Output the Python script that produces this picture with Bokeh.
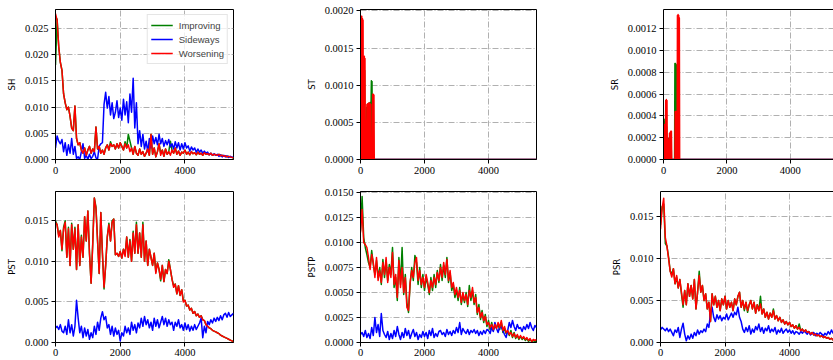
from bokeh.plotting import figure
from bokeh.layouts import column, row
from bokeh.models import FixedTicker, PrintfTickFormatter, Range1d, LinearAxis
from bokeh.embed import file_html
from bokeh.resources import INLINE

# time steps shared by the dense series
steps = list(range(0, 5501, 50))

# ---------------- SH ----------------
sh_improving = [
    0.0180, 0.0268, 0.0215, 0.0185, 0.0170, 0.0125, 0.0108, 0.0095, 0.0100, 0.0082,
    0.0060, 0.0055, 0.0102, 0.0040, 0.0028, 0.0032, 0.0018, 0.0012, 0.0022, 0.0008,
    0.0018, 0.0025, 0.0012, 0.0020, 0.0015, 0.0062, 0.0020, 0.0025, 0.0012, 0.0018,
    0.0010, 0.0022, 0.0028, 0.0018, 0.0034, 0.0025, 0.0028, 0.0020, 0.0030, 0.0022,
    0.0032, 0.0025, 0.0018, 0.0034, 0.0022, 0.0048, 0.0035, 0.0022, 0.0010, 0.0025,
    0.0012, 0.0008, 0.0020, 0.0010, 0.0015, 0.0006, 0.0012, 0.0020, 0.0008, 0.0048,
    0.0010, 0.0022, 0.0005, 0.0015, 0.0030, 0.0012, 0.0018, 0.0006, 0.0020, 0.0010,
    0.0015, 0.0035, 0.0018, 0.0012, 0.0022, 0.0010, 0.0016, 0.0008, 0.0014, 0.0012,
    0.0018, 0.0010, 0.0014, 0.0009, 0.0015, 0.0011, 0.0013, 0.0009, 0.0014, 0.0010,
    0.0012, 0.0008, 0.0013, 0.0010, 0.0011, 0.0009, 0.0012, 0.0008, 0.0010, 0.0009,
    0.0008, 0.0010, 0.0007, 0.0008, 0.0006, 0.0007, 0.0005, 0.0006, 0.0005, 0.0004,
    0.0003,
]
sh_sideways = [
    0.0022, 0.0045, 0.0035, 0.0030, 0.0038, 0.0015, 0.0032, 0.0008, 0.0028, 0.0012,
    0.0040, 0.0010, 0.0025, 0.0002, 0.0005, 0.0000, 0.0015, 0.0030, 0.0002, 0.0008,
    0.0000, 0.0010, 0.0002, 0.0006, 0.0015, 0.0003, 0.0001, 0.0025, 0.0030, 0.0032,
    0.0105, 0.0128, 0.0098, 0.0120, 0.0085, 0.0108, 0.0078, 0.0090, 0.0112, 0.0080,
    0.0098, 0.0075, 0.0115, 0.0085, 0.0110, 0.0070, 0.0125, 0.0090, 0.0155, 0.0060,
    0.0108, 0.0030, 0.0055, 0.0025, 0.0048, 0.0020, 0.0035, 0.0015, 0.0040, 0.0022,
    0.0045, 0.0030, 0.0042, 0.0028, 0.0048, 0.0030, 0.0040, 0.0025, 0.0036, 0.0028,
    0.0038, 0.0024, 0.0030, 0.0020, 0.0034, 0.0022, 0.0032, 0.0018, 0.0030, 0.0020,
    0.0032, 0.0022, 0.0026, 0.0016, 0.0024, 0.0018, 0.0022, 0.0014, 0.0020, 0.0014,
    0.0018, 0.0012, 0.0016, 0.0012, 0.0014, 0.0009, 0.0012, 0.0008, 0.0011, 0.0008,
    0.0010, 0.0006, 0.0009, 0.0005, 0.0008, 0.0005, 0.0007, 0.0004, 0.0006, 0.0004,
    0.0005,
]
sh_worsening = [
    0.0278, 0.0265, 0.0215, 0.0185, 0.0170, 0.0125, 0.0108, 0.0095, 0.0100, 0.0082,
    0.0060, 0.0055, 0.0102, 0.0040, 0.0028, 0.0032, 0.0018, 0.0012, 0.0022, 0.0008,
    0.0018, 0.0025, 0.0012, 0.0020, 0.0015, 0.0062, 0.0020, 0.0025, 0.0012, 0.0018,
    0.0010, 0.0022, 0.0028, 0.0018, 0.0030, 0.0025, 0.0028, 0.0020, 0.0030, 0.0022,
    0.0032, 0.0025, 0.0018, 0.0030, 0.0022, 0.0028, 0.0015, 0.0022, 0.0010, 0.0025,
    0.0012, 0.0008, 0.0020, 0.0010, 0.0015, 0.0006, 0.0012, 0.0020, 0.0008, 0.0048,
    0.0010, 0.0022, 0.0005, 0.0015, 0.0030, 0.0008, 0.0018, 0.0006, 0.0020, 0.0010,
    0.0015, 0.0008, 0.0018, 0.0012, 0.0022, 0.0010, 0.0016, 0.0008, 0.0014, 0.0012,
    0.0018, 0.0010, 0.0014, 0.0009, 0.0015, 0.0011, 0.0013, 0.0009, 0.0014, 0.0010,
    0.0012, 0.0008, 0.0013, 0.0010, 0.0011, 0.0009, 0.0012, 0.0008, 0.0010, 0.0009,
    0.0008, 0.0010, 0.0007, 0.0008, 0.0006, 0.0007, 0.0005, 0.0006, 0.0005, 0.0004,
    0.0003,
]

# ---------------- ST (activity only in the first few hundred steps) ----------------
st_steps = [
    0, 10, 20, 30, 40, 50, 60, 70, 80, 90,
    100, 110, 120, 130, 140, 150, 160, 170, 180, 190,
    200, 210, 220, 230, 240, 250, 260, 270, 280, 290,
    300, 310, 320, 330, 340, 350, 360, 370, 380, 390,
    400, 410, 420, 430, 440, 450, 460, 5500,
]
st_improving = [
    0.0, 0.00150, 0.0, 0.00190, 0.0, 0.00180, 0.0, 0.00040, 0.0, 0.00120,
    0.0, 0.00130, 0.0, 0.00120, 0.0, 0.00050, 0.0, 0.00050, 0.0, 0.00070,
    0.0, 0.00070, 0.0, 0.00074, 0.0, 0.00075, 0.0, 0.00076, 0.0, 0.00076,
    0.0, 0.00077, 0.0, 0.00077, 0.00106, 0.0, 0.00105, 0.0, 0.00080, 0.0,
    0.00080, 0.0, 0.0, 0.0, 0.0, 0.0, 0.0, 0.0,
]
st_sideways_steps = [0, 5500]
st_sideways = [0.0, 0.0]
st_worsening = [
    0.00190, 0.0, 0.00193, 0.0, 0.00193, 0.0, 0.00190, 0.0, 0.00188, 0.0,
    0.00138, 0.0, 0.00139, 0.0, 0.00136, 0.0, 0.00053, 0.0, 0.00050, 0.0,
    0.00074, 0.0, 0.00075, 0.0, 0.00075, 0.0, 0.00076, 0.0, 0.00076, 0.0,
    0.00075, 0.0, 0.00074, 0.0, 0.0, 0.0, 0.0, 0.0, 0.00088, 0.0,
    0.00088, 0.0, 0.00087, 0.0, 0.0, 0.0, 0.0, 0.0,
]

# ---------------- SR ----------------
sr_steps = [
    0, 10, 20, 30, 40, 50, 60, 70, 80, 90,
    100, 110, 120, 130, 140, 150, 160, 170, 180, 190,
    200, 210, 220, 230, 240, 250, 260, 270, 280, 290,
    300, 310, 320, 330, 340, 350, 360, 370, 380, 390,
    400, 410, 420, 430, 440, 450, 460, 470, 480, 490,
    500, 510, 520, 5500,
]
sr_improving = [
    0.00036, 0.0, 0.00037, 0.0, 0.00035, 0.0, 0.00010, 0.0, 0.00020, 0.0,
    0.00030, 0.0, 0.00010, 0.0, 0.00019, 0.0, 0.00019, 0.0, 0.00010, 0.0,
    0.00020, 0.0, 0.00022, 0.0, 0.00020, 0.0, 0.0, 0.0, 0.0, 0.0,
    0.0, 0.0, 0.0, 0.0, 0.0, 0.0, 0.00088, 0.0, 0.00088, 0.0,
    0.00087, 0.0, 0.00086, 0.0, 0.00030, 0.0, 0.00030, 0.0, 0.00020, 0.0,
    0.0, 0.0, 0.0, 0.0,
]
sr_sideways_steps = [0, 5500]
sr_sideways = [0.0, 0.0]
sr_worsening = [
    0.0, 0.00030, 0.0, 0.00032, 0.0, 0.00031, 0.0, 0.00054, 0.0, 0.00055,
    0.0, 0.00054, 0.0, 0.00020, 0.0, 0.00018, 0.0, 0.00015, 0.0, 0.00024,
    0.0, 0.00025, 0.0, 0.00026, 0.0, 0.00026, 0.0, 0.0, 0.0, 0.0,
    0.0, 0.0, 0.0, 0.0, 0.0, 0.0, 0.0, 0.00044, 0.0, 0.00044,
    0.0, 0.00043, 0.0, 0.0, 0.00132, 0.0, 0.00133, 0.0, 0.00132, 0.0,
    0.00130, 0.0, 0.0, 0.0,
]

# ---------------- PST ----------------
pst_improving = [
    0.0150, 0.0145, 0.0132, 0.0138, 0.0113, 0.0142, 0.0150, 0.0105, 0.0142, 0.0095,
    0.0147, 0.0115, 0.0142, 0.0090, 0.0145, 0.0095, 0.0132, 0.0105, 0.0155, 0.0125,
    0.0162, 0.0110, 0.0073, 0.0122, 0.0178, 0.0167, 0.0125, 0.0085, 0.0160, 0.0110,
    0.0066, 0.0095, 0.0130, 0.0147, 0.0125, 0.0150, 0.0152, 0.0108, 0.0110, 0.0106,
    0.0112, 0.0104, 0.0115, 0.0108, 0.0130, 0.0105, 0.0127, 0.0100, 0.0137, 0.0110,
    0.0148, 0.0110, 0.0135, 0.0105, 0.0148, 0.0100, 0.0125, 0.0095, 0.0115, 0.0105,
    0.0095, 0.0110, 0.0087, 0.0098, 0.0090, 0.0076, 0.0095, 0.0075, 0.0090, 0.0085,
    0.0102, 0.0090, 0.0078, 0.0070, 0.0072, 0.0060, 0.0070, 0.0058, 0.0065, 0.0052,
    0.0052, 0.0045, 0.0046, 0.0040, 0.0042, 0.0036, 0.0038, 0.0033, 0.0035, 0.0031,
    0.0033, 0.0028, 0.0027, 0.0022, 0.0020, 0.0018, 0.0017, 0.0015, 0.0014, 0.0013,
    0.0012, 0.0011, 0.0009, 0.0008, 0.0007, 0.0006, 0.0005, 0.0004, 0.0003, 0.0002,
    0.0001,
]
pst_sideways = [
    0.0018, 0.0020, 0.0016, 0.0022, 0.0014, 0.0012, 0.0020, 0.0010, 0.0028, 0.0012,
    0.0022, 0.0008, 0.0020, 0.0052, 0.0030, 0.0012, 0.0020, 0.0006, 0.0018, 0.0008,
    0.0016, 0.0004, 0.0012, 0.0006, 0.0020, 0.0010, 0.0025, 0.0015, 0.0030, 0.0038,
    0.0028, 0.0032, 0.0018, 0.0022, 0.0010, 0.0020, 0.0008, 0.0018, 0.0010, 0.0015,
    0.0002, 0.0012, 0.0008, 0.0020, 0.0012, 0.0018, 0.0010, 0.0025, 0.0015, 0.0022,
    0.0012, 0.0024, 0.0018, 0.0030, 0.0020, 0.0032, 0.0022, 0.0028, 0.0018, 0.0025,
    0.0015, 0.0030, 0.0020, 0.0028, 0.0018, 0.0025, 0.0032, 0.0022, 0.0030, 0.0020,
    0.0028, 0.0022, 0.0025, 0.0015, 0.0025, 0.0020, 0.0028, 0.0018, 0.0022, 0.0015,
    0.0024, 0.0016, 0.0022, 0.0014, 0.0020, 0.0015, 0.0022, 0.0016, 0.0020, 0.0024,
    0.0030, 0.0006, 0.0020, 0.0012, 0.0026, 0.0022, 0.0028, 0.0024, 0.0030, 0.0026,
    0.0031, 0.0027, 0.0033, 0.0028, 0.0034, 0.0036, 0.0031, 0.0037, 0.0032, 0.0034,
    0.0036,
]
pst_worsening = [
    0.0148, 0.0145, 0.0130, 0.0138, 0.0115, 0.0140, 0.0148, 0.0105, 0.0140, 0.0095,
    0.0145, 0.0115, 0.0140, 0.0090, 0.0145, 0.0095, 0.0130, 0.0105, 0.0155, 0.0125,
    0.0162, 0.0110, 0.0073, 0.0120, 0.0178, 0.0165, 0.0125, 0.0085, 0.0160, 0.0110,
    0.0068, 0.0095, 0.0130, 0.0145, 0.0125, 0.0148, 0.0152, 0.0108, 0.0110, 0.0106,
    0.0112, 0.0104, 0.0115, 0.0106, 0.0130, 0.0105, 0.0125, 0.0100, 0.0135, 0.0110,
    0.0145, 0.0110, 0.0135, 0.0105, 0.0145, 0.0100, 0.0125, 0.0095, 0.0115, 0.0105,
    0.0095, 0.0110, 0.0085, 0.0098, 0.0090, 0.0078, 0.0095, 0.0075, 0.0090, 0.0085,
    0.0100, 0.0090, 0.0078, 0.0068, 0.0072, 0.0060, 0.0070, 0.0058, 0.0065, 0.0050,
    0.0052, 0.0045, 0.0046, 0.0040, 0.0042, 0.0036, 0.0038, 0.0033, 0.0035, 0.0031,
    0.0033, 0.0028, 0.0027, 0.0022, 0.0020, 0.0018, 0.0017, 0.0015, 0.0014, 0.0013,
    0.0012, 0.0011, 0.0009, 0.0008, 0.0007, 0.0006, 0.0005, 0.0004, 0.0003, 0.0002,
    0.0001,
]

# ---------------- PSTP ----------------
pstp_improving = [
    0.0112, 0.0146, 0.0105, 0.0095, 0.0088, 0.0080, 0.0075, 0.0092, 0.0078, 0.0068,
    0.0082, 0.0065, 0.0075, 0.0058, 0.0083, 0.0065, 0.0082, 0.0062, 0.0078, 0.0068,
    0.0095, 0.0055, 0.0065, 0.0042, 0.0085, 0.0058, 0.0095, 0.0048, 0.0068, 0.0040,
    0.0030, 0.0058, 0.0075, 0.0062, 0.0087, 0.0080, 0.0058, 0.0075, 0.0055, 0.0068,
    0.0052, 0.0065, 0.0058, 0.0048, 0.0065, 0.0052, 0.0068, 0.0055, 0.0072, 0.0060,
    0.0078, 0.0062, 0.0077, 0.0065, 0.0085, 0.0060, 0.0070, 0.0052, 0.0058, 0.0045,
    0.0052, 0.0042, 0.0055, 0.0038, 0.0048, 0.0040, 0.0050, 0.0036, 0.0057, 0.0042,
    0.0052, 0.0038, 0.0048, 0.0028, 0.0038, 0.0023, 0.0032, 0.0020, 0.0028, 0.0016,
    0.0022, 0.0013, 0.0020, 0.0012, 0.0016, 0.0015, 0.0018, 0.0013, 0.0020, 0.0010,
    0.0014, 0.0009, 0.0011, 0.0007, 0.0012, 0.0005, 0.0010, 0.0004, 0.0007, 0.0003,
    0.0006, 0.0003, 0.0005, 0.0002, 0.0004, 0.0001, 0.0003, 0.0001, 0.0002, 0.0001,
    0.0002,
]
pstp_sideways = [
    0.0008, 0.0010, 0.0006, 0.0012, 0.0005, 0.0009, 0.0004, 0.0015, 0.0007, 0.0025,
    0.0010, 0.0018, 0.0006, 0.0029, 0.0012, 0.0008, 0.0005, 0.0011, 0.0003, 0.0009,
    0.0004, 0.0012, 0.0006, 0.0016, 0.0008, 0.0003, 0.0010, 0.0005, 0.0014, 0.0007,
    0.0012, 0.0004, 0.0009, 0.0013, 0.0006, 0.0010, 0.0003, 0.0008, 0.0005, 0.0011,
    0.0006, 0.0010, 0.0004, 0.0012, 0.0007, 0.0014, 0.0005, 0.0009, 0.0006, 0.0011,
    0.0012, 0.0008, 0.0010, 0.0006, 0.0013, 0.0008, 0.0011, 0.0007, 0.0012, 0.0009,
    0.0015, 0.0010, 0.0020, 0.0008, 0.0014, 0.0011, 0.0009, 0.0013, 0.0008, 0.0012,
    0.0010, 0.0013, 0.0009, 0.0012, 0.0007, 0.0011, 0.0008, 0.0012, 0.0009, 0.0013,
    0.0012, 0.0009, 0.0015, 0.0011, 0.0020, 0.0014, 0.0010, 0.0016, 0.0015, 0.0012,
    0.0008, 0.0005, 0.0012, 0.0020, 0.0015, 0.0022, 0.0016, 0.0012, 0.0018, 0.0014,
    0.0015, 0.0011, 0.0016, 0.0013, 0.0018, 0.0014, 0.0020, 0.0015, 0.0012, 0.0017,
    0.0015,
]
pstp_worsening = [
    0.0110, 0.0133, 0.0100, 0.0098, 0.0095, 0.0085, 0.0073, 0.0088, 0.0080, 0.0065,
    0.0085, 0.0062, 0.0072, 0.0060, 0.0080, 0.0068, 0.0085, 0.0060, 0.0075, 0.0065,
    0.0090, 0.0058, 0.0068, 0.0045, 0.0082, 0.0055, 0.0075, 0.0050, 0.0065, 0.0035,
    0.0032, 0.0060, 0.0072, 0.0065, 0.0080, 0.0085, 0.0062, 0.0072, 0.0058, 0.0065,
    0.0055, 0.0068, 0.0060, 0.0050, 0.0062, 0.0055, 0.0065, 0.0058, 0.0070, 0.0062,
    0.0075, 0.0065, 0.0080, 0.0068, 0.0083, 0.0062, 0.0072, 0.0055, 0.0060, 0.0048,
    0.0055, 0.0045, 0.0052, 0.0040, 0.0050, 0.0042, 0.0048, 0.0038, 0.0052, 0.0045,
    0.0055, 0.0040, 0.0045, 0.0030, 0.0035, 0.0025, 0.0030, 0.0022, 0.0026, 0.0018,
    0.0020, 0.0015, 0.0018, 0.0013, 0.0018, 0.0014, 0.0020, 0.0015, 0.0022, 0.0012,
    0.0016, 0.0010, 0.0012, 0.0008, 0.0010, 0.0006, 0.0009, 0.0005, 0.0008, 0.0004,
    0.0007, 0.0004, 0.0006, 0.0003, 0.0005, 0.0002, 0.0004, 0.0001, 0.0003, 0.0002,
    0.0003,
]

# ---------------- PSR ----------------
psr_improving = [
    0.0140, 0.0162, 0.0165, 0.0118, 0.0115, 0.0102, 0.0085, 0.0082, 0.0088, 0.0070,
    0.0078, 0.0065, 0.0075, 0.0058, 0.0042, 0.0062, 0.0045, 0.0070, 0.0055, 0.0068,
    0.0052, 0.0075, 0.0040, 0.0060, 0.0085, 0.0060, 0.0068, 0.0050, 0.0058, 0.0040,
    0.0048, 0.0025, 0.0058, 0.0045, 0.0055, 0.0042, 0.0050, 0.0038, 0.0052, 0.0045,
    0.0055, 0.0040, 0.0050, 0.0042, 0.0048, 0.0038, 0.0052, 0.0045, 0.0055, 0.0060,
    0.0042, 0.0050, 0.0038, 0.0048, 0.0036, 0.0045, 0.0050, 0.0040, 0.0048, 0.0035,
    0.0045, 0.0038, 0.0055, 0.0034, 0.0040, 0.0030, 0.0036, 0.0028, 0.0035, 0.0030,
    0.0040, 0.0028, 0.0032, 0.0026, 0.0030, 0.0024, 0.0027, 0.0022, 0.0025, 0.0021,
    0.0024, 0.0019, 0.0021, 0.0017, 0.0020, 0.0016, 0.0022, 0.0014, 0.0016, 0.0013,
    0.0015, 0.0012, 0.0013, 0.0010, 0.0012, 0.0009, 0.0010, 0.0008, 0.0009, 0.0007,
    0.0008, 0.0006, 0.0007, 0.0005, 0.0006, 0.0004, 0.0005, 0.0003, 0.0004, 0.0003,
    0.0002,
]
psr_sideways = [
    0.0015, 0.0018, 0.0016, 0.0014, 0.0017, 0.0013, 0.0016, 0.0012, 0.0008, 0.0015,
    0.0012, 0.0018, 0.0006, 0.0016, 0.0023, 0.0010, 0.0002, 0.0008, 0.0004, 0.0010,
    0.0005, 0.0012, 0.0008, 0.0015, 0.0010, 0.0014, 0.0012, 0.0016, 0.0013, 0.0022,
    0.0018, 0.0035, 0.0042, 0.0030, 0.0025, 0.0033, 0.0028, 0.0032, 0.0026, 0.0030,
    0.0028, 0.0034, 0.0027, 0.0031, 0.0035, 0.0030, 0.0036, 0.0033, 0.0042, 0.0030,
    0.0025, 0.0016, 0.0012, 0.0018, 0.0013, 0.0020, 0.0010, 0.0016, 0.0012, 0.0019,
    0.0015, 0.0022, 0.0013, 0.0018, 0.0011, 0.0017, 0.0014, 0.0020, 0.0012, 0.0016,
    0.0013, 0.0018, 0.0010, 0.0015, 0.0012, 0.0017, 0.0011, 0.0014, 0.0016, 0.0012,
    0.0015, 0.0011, 0.0014, 0.0010, 0.0013, 0.0012, 0.0010, 0.0013, 0.0011, 0.0014,
    0.0012, 0.0010, 0.0013, 0.0009, 0.0011, 0.0012, 0.0008, 0.0011, 0.0009, 0.0012,
    0.0010, 0.0008, 0.0011, 0.0009, 0.0013, 0.0010, 0.0015, 0.0011, 0.0013, 0.0012,
    0.0012,
]
psr_worsening = [
    0.0135, 0.0160, 0.0172, 0.0125, 0.0115, 0.0100, 0.0085, 0.0078, 0.0088, 0.0070,
    0.0080, 0.0065, 0.0075, 0.0060, 0.0045, 0.0062, 0.0045, 0.0070, 0.0055, 0.0068,
    0.0052, 0.0075, 0.0040, 0.0060, 0.0080, 0.0060, 0.0068, 0.0050, 0.0058, 0.0040,
    0.0048, 0.0025, 0.0058, 0.0045, 0.0055, 0.0042, 0.0050, 0.0038, 0.0052, 0.0045,
    0.0055, 0.0040, 0.0050, 0.0042, 0.0048, 0.0038, 0.0052, 0.0045, 0.0055, 0.0060,
    0.0042, 0.0050, 0.0040, 0.0048, 0.0038, 0.0045, 0.0050, 0.0040, 0.0048, 0.0035,
    0.0045, 0.0038, 0.0046, 0.0034, 0.0040, 0.0030, 0.0036, 0.0028, 0.0035, 0.0030,
    0.0038, 0.0028, 0.0032, 0.0026, 0.0030, 0.0024, 0.0027, 0.0022, 0.0025, 0.0021,
    0.0024, 0.0019, 0.0021, 0.0017, 0.0020, 0.0016, 0.0018, 0.0014, 0.0016, 0.0013,
    0.0015, 0.0012, 0.0013, 0.0010, 0.0012, 0.0009, 0.0010, 0.0008, 0.0009, 0.0007,
    0.0008, 0.0006, 0.0007, 0.0005, 0.0006, 0.0004, 0.0005, 0.0003, 0.0004, 0.0003,
    0.0002,
]

x_ticks = [0, 2000, 4000]
series_names = ["Improving", "Sideways", "Worsening"]
series_colors = ["green", "blue", "red"]

TICK_FONT = "Liberation Serif"
LABEL_FONT = "DejaVu Sans"
GRID_COLOR = "#b0b0b0"


def make_panel(name, lines, y_end, y_ticks, y_fmt, x_end, col, row_idx, legend=False):
    widths = [303, 303, 227]
    lefts = [55, 54, 54]
    rights = [70, 70, 0]
    heights = [181, 179]
    tops = [9, 10]
    bottoms = [22, 18]

    p = figure(
        width=widths[col], height=heights[row_idx],
        x_range=Range1d(0, x_end), y_range=Range1d(0, y_end),
        output_backend="svg", toolbar_location=None,
        min_border_left=lefts[col], min_border_right=rights[col],
        min_border_top=tops[row_idx], min_border_bottom=bottoms[row_idx],
        background_fill_color="white", border_fill_color="white",
    )

    for (xs, ys), label, color in zip(lines, series_names, series_colors):
        kw = dict(line_color=color, line_width=1.5, line_join="round")
        if legend:
            kw["legend_label"] = label
        p.line(xs, ys, **kw)

    # axes
    p.xaxis.ticker = FixedTicker(ticks=x_ticks)
    p.xaxis.formatter = PrintfTickFormatter(format="%d")
    p.yaxis.ticker = FixedTicker(ticks=y_ticks)
    p.yaxis.formatter = PrintfTickFormatter(format=y_fmt)
    p.yaxis.axis_label = name
    for ax in (p.xaxis[0], p.yaxis[0]):
        ax.major_tick_out = 4
        ax.major_tick_in = 0
        ax.minor_tick_line_color = None
        ax.major_tick_line_color = "black"
        ax.axis_line_color = "black"
        ax.axis_line_width = 1
        ax.major_label_text_font = TICK_FONT
        ax.major_label_text_font_size = "10.5px"
        ax.major_label_text_color = "black"
        ax.major_label_standoff = 3
    p.yaxis.axis_label_text_font = LABEL_FONT
    p.yaxis.axis_label_text_font_size = "8.5px"
    p.yaxis.axis_label_text_font_style = "normal"
    p.yaxis.axis_label_text_color = "black"
    p.yaxis.axis_label_standoff = 5
    if row_idx == 1:
        p.xaxis.major_label_standoff = 2

    # dash-dot grid
    for g in (p.xgrid[0], p.ygrid[0]):
        g.grid_line_color = GRID_COLOR
        g.grid_line_dash = "6 2 1 2"
        g.grid_line_width = 1
    p.xgrid.ticker = FixedTicker(ticks=x_ticks)
    p.ygrid.ticker = FixedTicker(ticks=y_ticks)

    if col == 2:
        # rightmost column runs off the page: frame on top, left and bottom only
        p.outline_line_color = None
        p.add_layout(LinearAxis(ticker=FixedTicker(ticks=[]),
                                major_label_text_font_size="0px",
                                major_tick_out=0, major_tick_in=0,
                                minor_tick_out=0, minor_tick_in=0,
                                axis_line_color="black", axis_line_width=1), "above")
    else:
        p.outline_line_color = "black"
        p.outline_line_alpha = 1
        p.outline_line_width = 1

    if legend:
        lg = p.legend[0]
        lg.location = "top_right"
        lg.label_text_font = "Liberation Sans"
        lg.label_text_font_size = "9.5px"
        lg.glyph_width = 22
        lg.glyph_height = 14
        lg.label_height = 14
        lg.label_standoff = 6
        lg.spacing = 0
        lg.padding = 3
        lg.margin = 5
        lg.border_line_color = "#cccccc"
        lg.background_fill_alpha = 0.8
    return p


p_sh = make_panel("SH", [(steps, sh_improving), (steps, sh_sideways), (steps, sh_worsening)],
                  0.0286, [0, 0.005, 0.010, 0.015, 0.020, 0.025], "%.3f", 5500, 0, 0, legend=True)
p_st = make_panel("ST", [(st_steps, st_improving), (st_sideways_steps, st_sideways), (st_steps, st_worsening)],
                  0.00202, [0, 0.0005, 0.0010, 0.0015, 0.0020], "%.4f", 5500, 1, 0)
p_sr = make_panel("SR", [(sr_steps, sr_improving), (sr_sideways_steps, sr_sideways), (sr_steps, sr_worsening)],
                  0.001375, [0, 0.0002, 0.0004, 0.0006, 0.0008, 0.0010, 0.0012], "%.4f", 5364, 2, 0)
p_pst = make_panel("PST", [(steps, pst_improving), (steps, pst_sideways), (steps, pst_worsening)],
                   0.0186, [0, 0.005, 0.010, 0.015], "%.3f", 5500, 0, 1)
p_pstp = make_panel("PSTP", [(steps, pstp_improving), (steps, pstp_sideways), (steps, pstp_worsening)],
                    0.0151, [0, 0.0025, 0.0050, 0.0075, 0.0100, 0.0125, 0.0150], "%.4f", 5500, 1, 1)
p_psr = make_panel("PSR", [(steps, psr_improving), (steps, psr_sideways), (steps, psr_worsening)],
                   0.0180, [0, 0.005, 0.010, 0.015], "%.3f", 5364, 2, 1)

layout = column(row(p_sh, p_st, p_sr), row(p_pst, p_pstp, p_psr))

with open("out.html", "w") as f:
    f.write(file_html(layout, INLINE))
